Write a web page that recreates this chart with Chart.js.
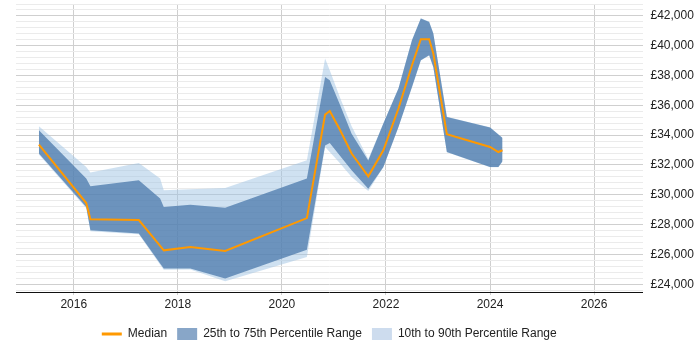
<!DOCTYPE html>
<html>
<head>
<meta charset="utf-8">
<script src="https://cdn.jsdelivr.net/npm/chart.js@4/dist/chart.umd.min.js"></script>
<style>
  html, body { margin: 0; padding: 0; background: #fff; }
  #wrap { width: 700px; height: 350px; }
</style>
</head>
<body>
<div id="wrap"><canvas id="c" width="700" height="350"></canvas></div>
<script>
const years  = [2015.33, 2016.24, 2016.32, 2017.25, 2017.66, 2017.73, 2018.24, 2018.91, 2020.48, 2020.83, 2020.92, 2021.12, 2021.34, 2021.66, 2021.95, 2022.24, 2022.50, 2022.67, 2022.83, 2022.91, 2023.17, 2024.00, 2024.16, 2024.24];
const median = [33370, 29450, 28360, 28310, 26570, 26275, 26500, 26230, 28440, 35380, 35620, 34330, 32770, 31240, 32990, 35790, 38690, 40440, 40440, 39480, 34060, 33210, 32870, 32990];
const p75    = [34330, 31090, 30570, 30970, 29750, 29180, 29340, 29140, 31090, 37900, 37690, 36000, 34100, 32300, 34780, 37130, 40370, 41830, 41600, 40820, 35220, 34510, 34040, 33810];
const p25    = [32770, 29180, 27620, 27400, 25390, 25050, 25050, 24380, 26320, 33300, 33480, 32600, 31650, 30400, 31870, 34550, 37240, 39030, 39360, 38580, 32870, 31870, 31870, 32250];
const p90    = [34600, 31870, 31490, 32130, 31090, 30300, 30370, 30460, 32320, 39140, 38360, 36500, 34600, 32400, 34800, 37150, 40400, 41850, 41620, 40840, 35240, 34530, 34060, 33830];
const p10    = [32700, 29100, 27560, 27350, 25300, 24980, 24990, 24200, 25830, 33200, 32870, 32100, 31200, 30250, 31850, 34530, 37220, 39010, 39340, 38560, 32850, 31850, 31850, 32230];
const xTicks = [2016, 2018, 2020, 2022, 2024, 2026];
const yMajorStep = 2000;
const yMinorStep = 400;
const labels = ['Median', '25th to 75th Percentile Range', '10th to 90th Percentile Range'];

const pts = arr => years.map((x, i) => ({ x: x, y: arr[i] }));
const FONT = '"Liberation Sans", Arial, sans-serif';

const ORANGE = 'rgb(255,153,0)';
const DARK = 'rgba(65,114,167,0.7)';
const LIGHT = 'rgba(160,195,228,0.5)';

new Chart(document.getElementById('c'), {
  type: 'line',
  data: {
    datasets: [
      { label: labels[0], data: pts(median), borderColor: ORANGE, borderWidth: 2, pointRadius: 0, fill: false, tension: 0 },
      { label: labels[1], data: pts(p75), borderWidth: 0, borderColor: 'rgba(0,0,0,0)', backgroundColor: DARK, pointRadius: 0, fill: '+1', tension: 0 },
      { label: 'p25', data: pts(p25), borderWidth: 0, borderColor: 'rgba(0,0,0,0)', pointRadius: 0, fill: false, tension: 0 },
      { label: labels[2], data: pts(p90), borderWidth: 0, borderColor: 'rgba(0,0,0,0)', backgroundColor: LIGHT, pointRadius: 0, fill: '+1', tension: 0 },
      { label: 'p10', data: pts(p10), borderWidth: 0, borderColor: 'rgba(0,0,0,0)', pointRadius: 0, fill: false, tension: 0 }
    ]
  },
  options: {
    responsive: false,
    animation: false,
    devicePixelRatio: 1,
    layout: { padding: { left: 16, top: 4, right: 0, bottom: 0 } },
    plugins: {
      tooltip: { enabled: false },
      legend: {
        position: 'bottom',
        fullSize: false,
        labels: {
          usePointStyle: true,
          pointStyleWidth: 20,
          boxHeight: 12,
          padding: 10,
          color: '#222',
          font: { family: FONT, size: 12 },
          generateLabels: () => [
            { text: labels[0], pointStyle: 'line', strokeStyle: ORANGE, fillStyle: ORANGE, lineWidth: 3, datasetIndex: 0, fontColor: '#222' },
            { text: labels[1], pointStyle: 'rect', strokeStyle: '#88a6c8', fillStyle: '#88a6c8', lineWidth: 0, datasetIndex: 1, fontColor: '#222' },
            { text: labels[2], pointStyle: 'rect', strokeStyle: '#cddcee', fillStyle: '#cddcee', lineWidth: 0, datasetIndex: 3, fontColor: '#222' }
          ]
        }
      }
    },
    scales: {
      x: {
        type: 'linear',
        min: 2014.89,
        max: 2026.93,
        afterBuildTicks: s => { s.ticks = xTicks.map(v => ({ value: v })); },
        afterFit: s => { s.height = 26; s.paddingLeft = 0; s.paddingRight = 0; },
        grid: { color: '#cfcfcf', lineWidth: 1, drawTicks: true, tickLength: 3, tickColor: '#cfcfcf' },
        border: { display: true, color: '#111', width: 1 },
        ticks: { padding: 2, color: '#222', font: { family: FONT, size: 12 }, callback: v => String(v), maxRotation: 0, autoSkip: false }
      },
      y: {
        type: 'linear',
        position: 'right',
        min: 23480,
        max: 42800,
        afterBuildTicks: s => {
          const t = [];
          for (let v = 23600; v <= 42800; v += yMinorStep) t.push({ value: v });
          s.ticks = t;
        },
        afterFit: s => { s.width = 57.5; s.paddingTop = 0; s.paddingBottom = 0; },
        grid: {
          drawTicks: false,
          lineWidth: 1,
          color: ctx => (ctx.tick && ctx.tick.value % yMajorStep === 0) ? '#cfcfcf' : '#ebebeb'
        },
        border: { display: false },
        ticks: {
          padding: 8,
          autoSkip: false,
          color: '#222',
          font: { family: FONT, size: 12 },
          callback: v => (v % yMajorStep === 0) ? '£' + v.toLocaleString('en-GB') : ''
        }
      }
    }
  }
});
</script>
</body>
</html>
